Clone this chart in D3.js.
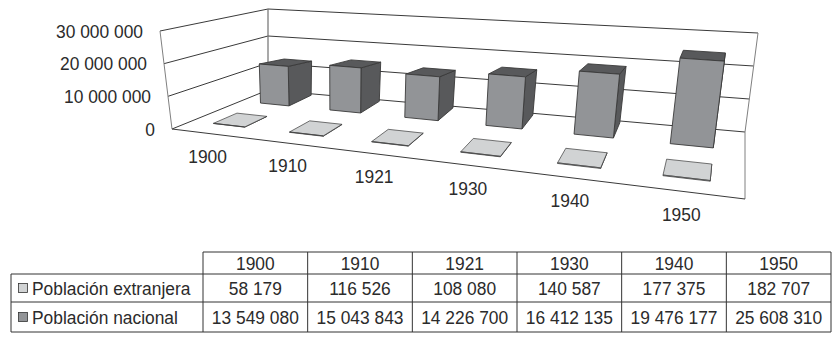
<!DOCTYPE html>
<html>
<head>
<meta charset="utf-8">
<script src="https://cdn.jsdelivr.net/npm/d3@7"></script>
<style>
  body { margin: 0; background: #fff; }
  text { font-family: "Liberation Sans", Arial, sans-serif; font-size: 18.5px; fill: #2b2b2b; }
</style>
</head>
<body>
<svg id="canvas" width="839" height="341"></svg>
<script>
const years = ["1900", "1910", "1921", "1930", "1940", "1950"];
const seriesNames = ["Población extranjera", "Población nacional"];
const foreign = [58179, 116526, 108080, 140587, 177375, 182707];
const national = [13549080, 15043843, 14226700, 16412135, 19476177, 25608310];
const valueTicks = [0, 10000000, 20000000, 30000000];

const svg = d3.select("#canvas");
const fmt = d3.formatLocale({ decimal: ",", thousands: " ", grouping: [3], currency: ["", ""] }).format(",");

// the eight corners of the 3d box as they land on the page
const box = {
  floor: { fl: [172, 129], fr: [745, 199], bl: [268, 90], br: [745, 132] },
  top: { fl: [160, 31], fr: [762, 87], bl: [268, 9], br: [758, 33] }
};

const catScale = d3.scaleBand().domain(years).range([0, 1]).paddingInner(0.58).paddingOuter(0.3);
const depthScale = d3.scaleBand().domain(seriesNames).range([0, 1]).paddingInner(0.5).paddingOuter(0.23).align(0.875);
const valueScale = d3.scaleLinear().domain([0, 30000000]).range([0, 1]);

// categories get wider towards the right (perspective)
const persp = 0.78;
const warp = (c) => (persp * c) / (1 - c + persp * c);

const mix = (a, b, t) => [a[0] + (b[0] - a[0]) * t, a[1] + (b[1] - a[1]) * t];

const project = (c, d, v) => {
  const cw = warp(c);
  const level = (q) => mix(mix(q.fl, q.fr, cw), mix(q.bl, q.br, cw), d);
  return mix(level(box.floor), level(box.top), valueScale(v));
};

const poly = d3.line();
const stroke = "#3a3a3a";

// text is a bit narrower than the font, so squeeze it sideways
const label = (x, y, str, anchor) =>
  svg.append("text")
    .attr("transform", `translate(${x},${y}) scale(0.94,1)`)
    .attr("text-anchor", anchor)
    .text(str);

// walls and gridlines
const wallLine = (pts, color, width) =>
  svg.append("path").attr("d", poly(pts)).attr("fill", "none").attr("stroke", color).attr("stroke-width", width);

valueTicks.forEach((t) => {
  wallLine([project(0, 0, t), project(0, 1, t), project(1, 1, t)], "#3a3a3a", 1);
  const p = project(0, 0, t);
  label(p[0] - 17, p[1] + 6.5, fmt(t), "end");
});
wallLine([project(0, 0, 0), project(0, 0, 30000000)], "#808080", 1);
wallLine([project(0, 1, 0), project(0, 1, 30000000)], "#707070", 1.2);
wallLine([project(1, 1, 0), project(1, 1, 30000000)], "#808080", 1);
wallLine([project(1, 1, 0), project(1, 0, 0)], "#808080", 1);
wallLine([project(0, 0, 0), project(1, 0, 0)], "#3a3a3a", 1);

// bars, front row first
const drawBar = (year, name, value, fill) => {
  const c0 = catScale(year);
  const c1 = c0 + catScale.bandwidth();
  const d0 = depthScale(name);
  const d1 = d0 + depthScale.bandwidth();
  // the tops of the tall bars look flatter than the box perspective gives
  const flatten = 0.4 * Math.min(1, value / valueTicks[1]);
  const topBack = (c) => {
    const front = project(c, d0, value);
    const back = project(c, d1, value);
    return [back[0], back[1] + (front[1] - back[1]) * flatten];
  };
  const g = svg.append("g");
  const face = (pts, color) =>
    g.append("path").attr("d", poly(pts) + "Z").attr("fill", color).attr("stroke", stroke).attr("stroke-width", fill.line).attr("stroke-linejoin", "round");
  face([project(c1, d0, 0), project(c1, d1, 0), topBack(c1), project(c1, d0, value)], fill.side);
  face([project(c0, d0, value), project(c1, d0, value), topBack(c1), topBack(c0)], fill.side);
  face([project(c0, d0, 0), project(c1, d0, 0), project(c1, d0, value), project(c0, d0, value)], fill.front);
};

years.forEach((y, i) => drawBar(y, seriesNames[0], foreign[i], { front: "#d1d3d4", side: "#d1d3d4", line: 0.7 }));
years.forEach((y, i) => drawBar(y, seriesNames[1], national[i], { front: "#929497", side: "#58595b", line: 0.9 }));

// year labels under the front edge
years.forEach((y) => {
  const p = project(catScale(y) + catScale.bandwidth() / 2, 0, 0);
  label(p[0] - 3, p[1] + 29, y, "middle");
});

// data table
const colScale = d3.scaleBand().domain(years).range([203, 831]);
const rowY = [252, 274, 302, 332];
const tableLeft = 11;
const tableRight = 831;

const tableLine = (x1, y1, x2, y2) =>
  svg.append("line").attr("x1", x1).attr("y1", y1).attr("x2", x2).attr("y2", y2).attr("stroke", "#333").attr("stroke-width", 1);

tableLine(203, rowY[0], tableRight, rowY[0]);
rowY.slice(1).forEach((y) => tableLine(tableLeft, y, tableRight, y));
tableLine(tableLeft, rowY[1], tableLeft, rowY[3]);
years.forEach((y) => tableLine(colScale(y), rowY[0], colScale(y), rowY[3]));
tableLine(tableRight, rowY[0], tableRight, rowY[3]);

const cellText = (y, rowIndex, str) =>
  label(colScale(y) + colScale.bandwidth() / 2, (rowY[rowIndex] + rowY[rowIndex + 1]) / 2 + 6.5, str, "middle");

years.forEach((y, i) => {
  cellText(y, 0, y);
  cellText(y, 1, fmt(foreign[i]));
  cellText(y, 2, fmt(national[i]));
});

seriesNames.forEach((name, i) => {
  const mid = (rowY[i + 1] + rowY[i + 2]) / 2;
  svg.append("rect").attr("x", 18.5).attr("y", mid - 4.5).attr("width", 9).attr("height", 9)
    .attr("fill", i === 0 ? "#d1d3d4" : "#929497").attr("stroke", "#333").attr("stroke-width", 0.8);
  label(32, mid + 6.5, name, "start");
});
</script>
</body>
</html>
